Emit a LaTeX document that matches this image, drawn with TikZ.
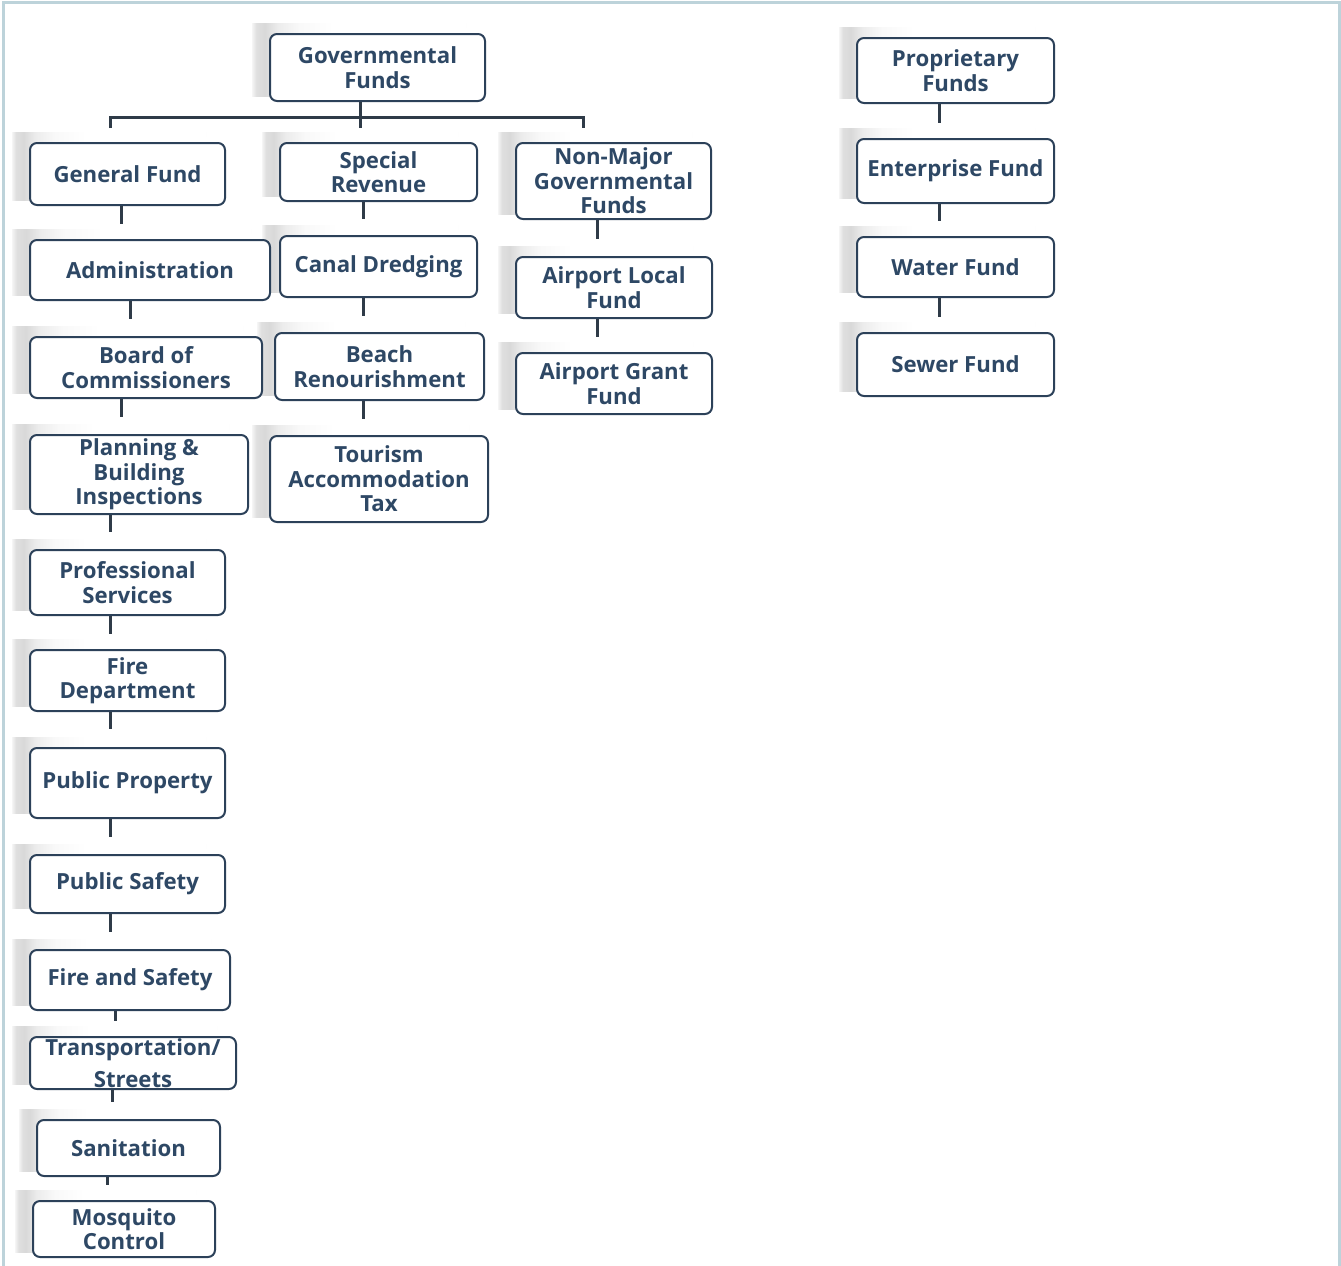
\documentclass[tikz,border=0pt]{standalone}
\usepackage{fontspec}
\setmainfont{Open Sans}
\usetikzlibrary{backgrounds}
\definecolor{bord}{HTML}{2C4159}
\definecolor{txtc}{HTML}{2E4865}
\definecolor{framec}{HTML}{BDD3DA}
\definecolor{conc}{HTML}{2F3B48}
\pgfdeclarehorizontalshading{shleft}{100bp}{color(0bp)=(gray!8); color(25bp)=(gray!8); color(26bp)=(gray!25); color(28bp)=(gray!30); color(31bp)=(gray!15); color(36bp)=(gray!5); color(44bp)=(white); color(100bp)=(white)}
\pgfdeclareverticalshading{shtop}{100bp}{color(0bp)=(white); color(70bp)=(white); color(74bp)=(gray!8); color(75bp)=(gray!4); color(100bp)=(gray!4)}
\tikzset{
  box/.style={draw=bord, line width=2pt, rounded corners=7pt, fill=white, inner sep=0pt, align=center,
    font=\bfseries\fontsize{22.2}{24.5}\selectfont, text=txtc},
  con/.style={draw=conc, line width=3pt},
  frm/.style={draw=framec, line width=3pt}
}
\newcommand\bx[6]{\node[box, minimum width={#4pt-#2pt}, minimum height={#5pt-#3pt}] (#1) at ({(#2+#4)/2},{(#3+#5)/2}) {#6};}
\newcommand\cn[4]{\draw[con,shorten >=#4pt] ([xshift=#3pt]#1.south) coordinate (cc) -- (cc |- #2.north);}
\begin{document}
\begin{tikzpicture}[x=1pt,y=-1pt]
\useasboundingbox (0,0) rectangle (1341,1266);
\draw[frm] (3,1266) -- (3,2) -- (1339,2) -- (1339,1266);
% column 0
\bx{gov}{270}{34}{485}{101}{Governmental\\Funds}
% column 1
\bx{gf}{30}{143}{225}{205}{General Fund}
\bx{adm}{30}{240}{270}{300}{Administration}
\bx{boc}{30}{337}{262}{398}{Board of\\Commissioners}
\bx{pbi}{30}{435}{248}{514}{Planning \&\\Building\\Inspections}
\bx{ps}{30}{550}{225}{615}{Professional\\Services}
\bx{fd}{30}{650}{225}{711}{Fire\\Department}
\bx{pp}{30}{748}{225}{818}{Public Property}
\bx{psf}{30}{855}{225}{913}{Public Safety}
\bx{fas}{30}{950}{230}{1010}{Fire and Safety}
\bx{tr}{30}{1037}{236}{1089}{\raisebox{-4pt}{\shortstack{Transportation/\\[7pt]Streets}}}
\bx{san}{37}{1120}{220}{1176}{Sanitation}
\bx{mc}{33}{1201}{215}{1257}{Mosquito\\Control}
% column 2
\bx{sr}{280}{143}{477}{201}{Special\\Revenue}
\bx{cd}{280}{236}{477}{297}{Canal Dredging}
\bx{br}{275}{333}{484}{400}{Beach\\Renourishment}
\bx{tat}{270}{436}{488}{522}{Tourism\\Accommodation\\Tax}
% column 3
\bx{nm}{516}{143}{711}{219}{Non-Major\\Governmental\\Funds}
\bx{alf}{516}{257}{712}{318}{Airport Local\\Fund}
\bx{agf}{516}{353}{712}{414}{Airport Grant\\Fund}
% column 4
\bx{pf}{857}{38}{1054}{103}{Proprietary\\Funds}
\bx{ef}{857}{139}{1054}{203}{Enterprise Fund}
\bx{wf}{857}{237}{1054}{297}{Water Fund}
\bx{sf}{857}{333}{1054}{396}{Sewer Fund}
% shadows
\begin{scope}[on background layer]
\foreach \n in {gov,gf,adm,boc,pbi,ps,fd,pp,psf,fas,tr,san,mc,sr,cd,br,tat,nm,alf,agf,pf,ef,wf,sf}{
  \shade[shading=shtop] ([shift={(-16,-10)}]\n.north west) rectangle ([shift={(-20,-6)}]\n.south east);
  \shade[shading=shleft] ([shift={(-17,-10)}]\n.north west) rectangle ([shift={(-20,-6)}]\n.south east);
}
\end{scope}
% tree from Governmental Funds
\coordinate (j) at (360,117);
\coordinate (t1) at (110,128);
\coordinate (t3) at (583,128);
\draw[con] (t1) |- (j) -| (t3);
\draw[con] (gov.south -| j) -- (j |- t1);
% column 1 connectors
\cn{gf}{adm}{-6.5}{15}
\cn{adm}{boc}{-20}{17}
\cn{boc}{pbi}{-25}{17}
\cn{pbi}{ps}{-29}{17}
\cn{ps}{fd}{-17.5}{15}
\cn{fd}{pp}{-17.5}{18}
\cn{pp}{psf}{-17.5}{17}
\cn{psf}{fas}{-17.5}{17}
\cn{fas}{tr}{-15}{15}
\cn{tr}{san}{-21}{17}
\cn{san}{mc}{-21.5}{15}
% column 2
\cn{sr}{cd}{-15.5}{16}
\cn{cd}{br}{-15.5}{16}
\cn{br}{tat}{-16.5}{16}
% column 3
\cn{nm}{alf}{-16.5}{17}
\cn{alf}{agf}{-17}{15}
% column 4
\cn{pf}{ef}{-16.5}{15}
\cn{ef}{wf}{-16.5}{15}
\cn{wf}{sf}{-16.5}{15}
\end{tikzpicture}
\end{document}
